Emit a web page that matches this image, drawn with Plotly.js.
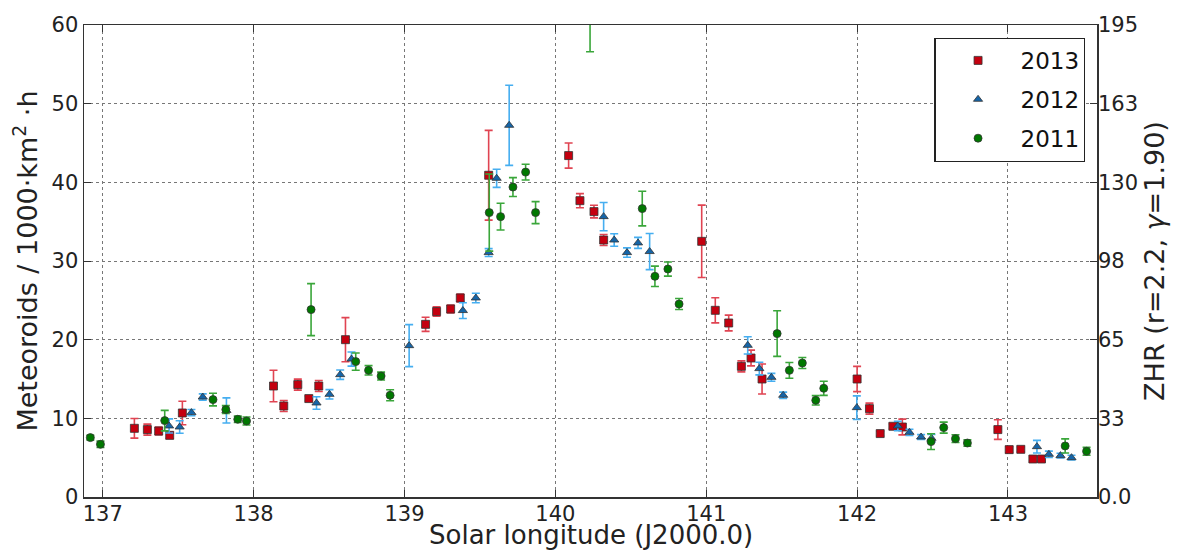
<!DOCTYPE html>
<html>
<head>
<meta charset="utf-8">
<script src="https://cdn.plot.ly/plotly-3.0.1.min.js"></script>
<style>html,body{margin:0;padding:0;background:#fff;}#chart{width:1180px;height:552px;}</style>
</head>
<body>
<div id="chart"></div>
<script>
// 2013
const x2013 = [137.21,137.296,137.371,137.444,137.528,138.132,138.2,138.293,138.366,138.432,138.609,139.14,139.213,139.306,139.37,139.558,140.088,140.163,140.256,140.32,140.97,141.06,141.149,141.233,141.297,141.37,142.0,142.082,142.153,142.237,142.3,142.933,143.008,143.085,143.165,143.222];
const y2013 = [8.73,8.57,8.39,7.84,10.68,14.11,11.57,14.29,12.51,14.11,20.0,21.95,23.57,23.9,25.3,40.9,43.4,37.67,36.28,32.67,32.5,23.73,22.12,16.61,17.67,15.0,15.0,11.23,8.06,8.99,8.9,8.57,6.02,6.06,4.83,4.83];
const e2013 = [1.25,0.7,0.5,0.4,1.5,2.0,0.7,0.7,0.3,0.7,2.8,0.9,0.6,0.5,0.5,5.7,1.6,0.9,0.8,0.7,4.6,1.6,1.0,0.7,1.0,1.9,1.6,0.7,0.3,0.3,1.0,1.25,0.4,0.3,0.3,0.3];
// 2012
const x2012 = [137.44,137.51,137.588,137.663,137.82,138.417,138.503,138.574,138.649,139.031,139.387,139.473,139.558,139.611,139.694,140.32,140.39,140.475,140.548,140.625,141.275,141.352,141.432,141.51,141.998,142.27,142.347,142.424,142.493,143.192,143.271,143.348,143.421];
const y2012 = [9.03,8.9,10.73,12.71,11.0,11.95,13.05,15.55,17.54,19.24,23.7,25.3,31.07,40.51,47.25,35.64,32.67,31.07,32.3,31.2,19.28,16.32,15.21,12.93,11.36,9.03,8.22,7.63,7.46,6.4,5.43,5.26,5.0];
const e2012 = [0.9,0.8,0.4,0.4,1.6,0.8,0.6,0.6,0.9,2.67,1.0,0.6,0.5,1.15,5.1,1.8,0.8,0.6,0.7,2.3,1.1,0.8,0.5,0.4,1.5,0.6,0.4,0.3,0.5,0.8,0.4,0.3,0.3];
// 2011
const x2011 = [136.918,136.985,137.411,137.731,137.816,137.895,137.953,138.381,138.677,138.762,138.845,138.905,139.562,139.637,139.719,139.803,139.869,140.23,140.576,140.66,140.746,140.82,141.47,141.551,141.637,141.726,141.779,142.49,142.574,142.652,142.731,143.379,143.521];
const y2011 = [7.55,6.70,9.71,12.38,11.11,9.88,9.66,23.82,17.21,16.1,15.38,12.93,36.15,35.64,39.4,41.3,36.15,63.5,36.66,28.05,28.98,24.53,20.77,16.1,17.03,12.29,13.82,7.04,8.82,7.42,6.86,6.49,5.81];
const e2011 = [0.3,0.4,1.3,0.8,0.5,0.4,0.5,3.3,1.1,0.6,0.5,0.7,4.9,1.7,1.2,1.0,1.4,6.9,2.2,1.3,0.9,0.7,2.9,1.0,0.7,0.6,0.9,1.0,0.7,0.5,0.4,0.9,0.5];

const xTicks = [137,138,139,140,141,142,143];
const yTicks = [0,10,20,30,40,50,60];
const zhrVals = [0,32.5,65,97.5,130,162.5,195];
const zhrText = ["0.0","33","65","98","130","163","195"];
const xTitle = 'Solar longitude (J2000.0)';

function series(name, xs, ys, es, symbol, fill, ecol, grp) {
  return {
    type: 'scatter', mode: 'markers', name: name, x: xs, y: ys,
    legendgroup: grp,
    error_y: {type: 'data', array: es, visible: true, color: ecol, thickness: 1.6, width: 4},
    marker: {symbol: symbol, size: 8, color: fill, line: {color: '#333', width: 0.8}},
    cliponaxis: true
  };
}

const traces = [
  series('2013', x2013, y2013, e2013, 'square', '#c4000f', '#e04452', 'a'),
  series('2012', x2012, y2012, e2012, 'triangle-up', '#1565a8', '#46aef0', 'b'),
  series('2011', x2011, y2011, e2011, 'circle', '#007800', '#3aa63a', 'c'),
  {type: 'scatter', x: [], y: [], yaxis: 'y2', showlegend: false, hoverinfo: 'skip'}
];

const FF = 'DejaVu Sans, sans-serif';
const layout = {
  width: 1180, height: 552,
  margin: {l: 84, r: 83, t: 25, b: 55},
  paper_bgcolor: '#fff', plot_bgcolor: '#fff',
  font: {family: FF, color: '#222'},
  showlegend: true,
  legend: {
    x: 0.9885, xanchor: 'right', y: 0.973, yanchor: 'top',
    bordercolor: '#222', borderwidth: 1.2, bgcolor: '#fff',
    font: {family: FF, size: 23, color: '#111'},
    tracegroupgap: 6, itemwidth: 75
  },
  xaxis: {
    range: [136.876, 143.59], tickvals: xTicks, ticktext: xTicks.map(String),
    showgrid: true, gridcolor: '#777', griddash: 'dot', gridwidth: 1,
    zeroline: false, showline: true, linecolor: '#333', linewidth: 1.5, mirror: 'ticks',
    ticks: 'inside', ticklen: 7, tickcolor: '#333', ticklabelstandoff: -3,
    tickfont: {family: FF, size: 21, color: '#222'}
  },
  yaxis: {
    range: [0, 60], tickvals: yTicks, ticktext: yTicks.map(String),
    showgrid: true, gridcolor: '#777', griddash: 'dot', gridwidth: 1,
    zeroline: false, showline: true, linecolor: '#333', linewidth: 1.5, mirror: 'ticks',
    ticks: 'inside', ticklen: 7, tickcolor: '#333',
    tickfont: {family: FF, size: 21, color: '#222'},
    title: {text: 'Meteoroids / 1000·km<sup>2</sup> ·h', font: {family: FF, size: 27, color: '#222'}, standoff: 6}
  },
  yaxis2: {
    overlaying: 'y', side: 'right', range: [0, 195],
    tickvals: zhrVals, ticktext: zhrText,
    showgrid: false, zeroline: false, showline: false,
    ticks: '',
    tickfont: {family: FF, size: 21, color: '#222'},
    title: {text: 'ZHR (r=2.2, <i>γ</i>=1.90)', font: {family: FF, size: 27, color: '#222'}, standoff: 8}
  },
  annotations: [{
    text: xTitle, xref: 'paper', yref: 'paper', x: 0.5, y: -0.08,
    xanchor: 'center', yanchor: 'middle', showarrow: false, borderpad: 0,
    font: {family: FF, size: 26, color: '#222'}
  }]
};

Plotly.newPlot('chart', traces, layout, {displayModeBar: false, staticPlot: true});
</script>
</body>
</html>
